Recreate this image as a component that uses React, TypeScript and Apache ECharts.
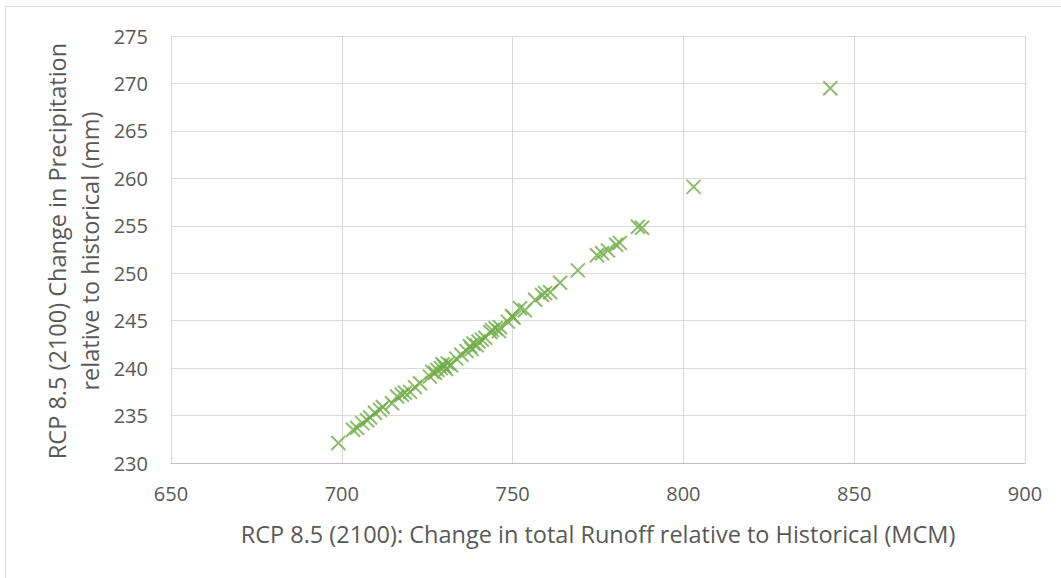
import React, { useEffect, useRef } from "react";
import * as echarts from "echarts";

// Change in total runoff (MCM) for each ensemble member, RCP 8.5 (2100)
const runoffChange: number[] = [
  699.0, 703.3, 704.5, 706.0, 707.4, 708.3, 709.7, 711.2, 712.0, 714.7,
  716.2, 717.6, 718.5, 720.0, 721.4, 722.9, 725.8, 726.5, 727.3, 728.0,
  729.0, 729.5, 730.0, 730.5, 731.0, 732.0, 733.5, 735.0, 736.5, 737.5,
  738.0, 738.5, 739.5, 740.0, 741.0, 742.0, 743.5, 744.0, 745.0, 746.0,
  746.3, 748.6, 749.8, 750.3, 752.2, 753.6, 756.6, 758.6, 759.5, 761.0,
  763.9, 769.1, 774.7, 776.2, 777.9, 780.3, 781.4, 786.7, 787.9, 803.0,
  843.0,
];

// Matching change in precipitation (mm)
const precipChange: number[] = [
  232.1, 233.5, 233.7, 234.2, 234.5, 234.8, 235.3, 235.6, 235.9, 236.3,
  237.0, 237.2, 237.4, 237.5, 238.0, 238.4, 239.1, 239.6, 239.5, 239.8,
  240.0, 240.4, 240.2, 239.9, 240.5, 240.3, 241.0, 241.4, 241.8, 242.3,
  242.0, 242.6, 242.4, 242.8, 243.0, 243.2, 243.8, 244.0, 244.2, 243.9,
  244.3, 244.9, 245.5, 245.3, 246.3, 246.1, 247.2, 247.7, 247.9, 248.0,
  249.0, 250.3, 251.9, 252.1, 252.4, 253.0, 253.2, 254.9, 254.8, 259.1,
  269.5,
];

const xTicks = { min: 650, max: 900, interval: 50 };
const yTicks = { min: 230, max: 275, interval: 5 };

const xTitle = "RCP 8.5 (2100): Change in total Runoff relative to Historical (MCM)";
const yTitleLines = ["RCP 8.5 (2100) Change in Precipitation", "relative to historical (mm)"];

const FONT = "'Open Sans', 'Noto Sans', sans-serif";
const TEXT = "#595959";
const GRID = "#d9d9d9";
const GREEN = "#70ad47";

export default function App() {
  const ref = useRef<HTMLDivElement>(null);

  useEffect(() => {
    if (!ref.current) return;
    const chart = echarts.init(ref.current, undefined, { renderer: "svg" });

    const points = runoffChange.map((x, i) => [x, precipChange[i]]);

    chart.setOption({
      animation: false,
      backgroundColor: "#ffffff",
      grid: { left: 171, top: 36, right: 36, bottom: 115, containLabel: false },
      xAxis: {
        type: "value",
        min: xTicks.min,
        max: xTicks.max,
        interval: xTicks.interval,
        name: xTitle,
        nameLocation: "middle",
        nameGap: 59,
        nameTextStyle: { color: TEXT, fontSize: 23.5, fontFamily: FONT },
        axisLine: { show: true, lineStyle: { color: "#bfbfbf", width: 1 } },
        axisTick: { show: false },
        axisLabel: { color: TEXT, fontSize: 20, fontFamily: FONT, margin: 20 },
        splitLine: { show: true, lineStyle: { color: GRID, width: 1 } },
      },
      yAxis: {
        type: "value",
        min: yTicks.min,
        max: yTicks.max,
        interval: yTicks.interval,
        axisLine: { show: false },
        axisTick: { show: false },
        axisLabel: { color: TEXT, fontSize: 20, fontFamily: FONT, margin: 23 },
        splitLine: { show: true, lineStyle: { color: GRID, width: 1 } },
      },
      graphic: [
        {
          type: "rect",
          silent: true,
          shape: { x: 5.5, y: 6.5, width: 1200, height: 700 },
          style: { fill: "none", stroke: GRID, lineWidth: 1 },
        },
        {
          type: "text",
          silent: true,
          x: 73,
          y: 251,
          rotation: Math.PI / 2,
          style: {
            text: yTitleLines.join("\n"),
            fill: TEXT,
            font: `23.5px ${FONT}`,
            lineHeight: 33,
            align: "center",
            verticalAlign: "middle",
          },
        },
      ],
      series: [
        {
          type: "scatter",
          data: points,
          symbol: "path://M0,0L10,10M10,0L0,10",
          symbolSize: 14,
          itemStyle: { color: "rgba(0,0,0,0)", borderColor: GREEN, borderWidth: 2 },
        },
      ],
    });

    return () => chart.dispose();
  }, []);

  return (
    <div
      ref={ref}
      style={{ position: "fixed", left: 0, top: 0, width: 1061, height: 578, background: "#fff" }}
    />
  );
}
